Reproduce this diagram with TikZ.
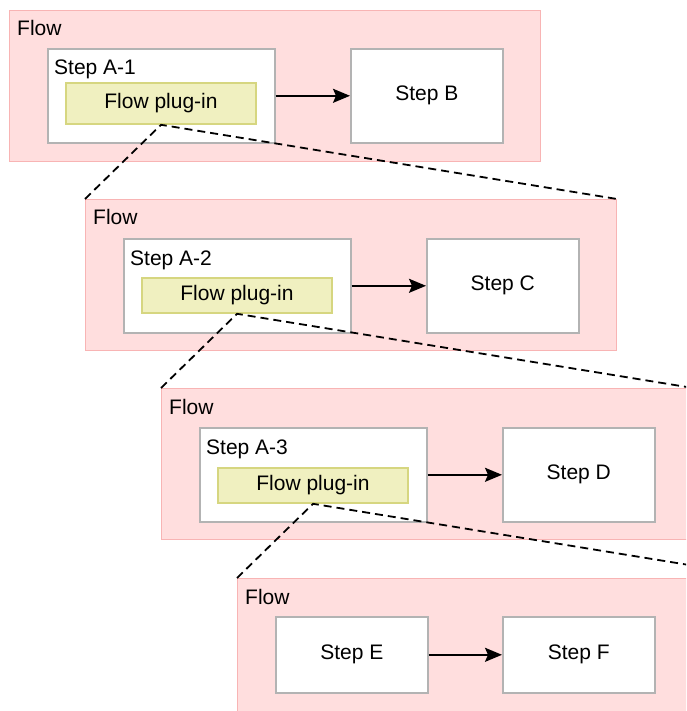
\documentclass[tikz,border=0pt]{standalone}
\usepackage{fontspec}
\setmainfont{Liberation Sans}
\usetikzlibrary{arrows.meta,calc}
\definecolor{flowfill}{RGB}{255,222,222}
\definecolor{flowline}{RGB}{248,180,180}
\definecolor{stepline}{RGB}{179,179,179}
\definecolor{plugfill}{RGB}{240,240,192}
\definecolor{plugline}{RGB}{214,214,128}

\begin{document}
\begin{tikzpicture}[x=1pt, y=-1pt,
    every node/.style={font=\fontsize{21}{25}\selectfont, inner sep=0pt},
    flowbox/.style={draw=flowline, fill=flowfill, line width=1pt, anchor=north west,
        minimum width=531pt, minimum height=151pt},
    stepbox/.style={draw=stepline, fill=white, line width=1.6pt, anchor=north west,
        minimum width=152pt, minimum height=94pt},
    plugbox/.style={draw=plugline, fill=plugfill, line width=1.6pt,
        minimum width=190pt, minimum height=35pt},
    namelbl/.style={anchor=base west},
    arr/.style={line width=1.9pt, -{Stealth[length=17pt, width=14pt, inset=3pt]}},
    zoomline/.style={line width=1.8pt, dash pattern=on 8pt off 5pt}]
    % 画像の範囲
    \path[use as bounding box, clip] (0,0) rectangle (686,711);
    % Flow 1
    \node[flowbox] (flow1) at (9,10) {};
    \node[namelbl] at ($(flow1.north west)+(8,26)$) {Flow};
    \node[stepbox, minimum width=227pt] (stepA1) at (47,48) {};
    \node[namelbl] at ($(stepA1.north west)+(7,27)$) {Step A-1};
    \node[plugbox, minimum height=41pt] (plug1) at (161,103.5) {Flow plug-in};
    \node[stepbox] (stepB) at (350,48) {Step B};
    \draw[arr] (stepA1) -- (stepB);
    % Flow 2
    \node[flowbox] (flow2) at (85,199) {};
    \node[namelbl] at ($(flow2.north west)+(8,26)$) {Flow};
    \node[stepbox, minimum width=227pt] (stepA2) at (123,238) {};
    \node[namelbl] at ($(stepA2.north west)+(7,27)$) {Step A-2};
    \node[plugbox] (plug2) at (237,295.5) {Flow plug-in};
    \node[stepbox] (stepC) at (426,238) {Step C};
    \draw[arr] (stepA2) -- (stepC);
    % Flow 3
    \node[flowbox] (flow3) at (161,388) {};
    \node[namelbl] at ($(flow3.north west)+(8,26)$) {Flow};
    \node[stepbox, minimum width=227pt] (stepA3) at (199,427) {};
    \node[namelbl] at ($(stepA3.north west)+(7,27)$) {Step A-3};
    \node[plugbox] (plug3) at (313,485.5) {Flow plug-in};
    \node[stepbox] (stepD) at (502,427) {Step D};
    \draw[arr] (stepA3) -- (stepD);
    % Flow 4
    \node[flowbox] (flow4) at (237,578) {};
    \node[namelbl] at ($(flow4.north west)+(8,26)$) {Flow};
    \node[stepbox, minimum height=76pt] (stepE) at (275,616) {Step E};
    \node[stepbox, minimum height=76pt] (stepF) at (502,616) {Step F};
    \draw[arr] (stepE) -- (stepF);
    % 拡大の破線
    \draw[zoomline] (flow2.north west) -- (plug1.south) -- (flow2.north east);
    \draw[zoomline] (flow3.north west) -- (plug2.south) -- (flow3.north east);
    \draw[zoomline] (flow4.north west) -- (plug3.south) -- (flow4.north east);
\end{tikzpicture}
\end{document}
